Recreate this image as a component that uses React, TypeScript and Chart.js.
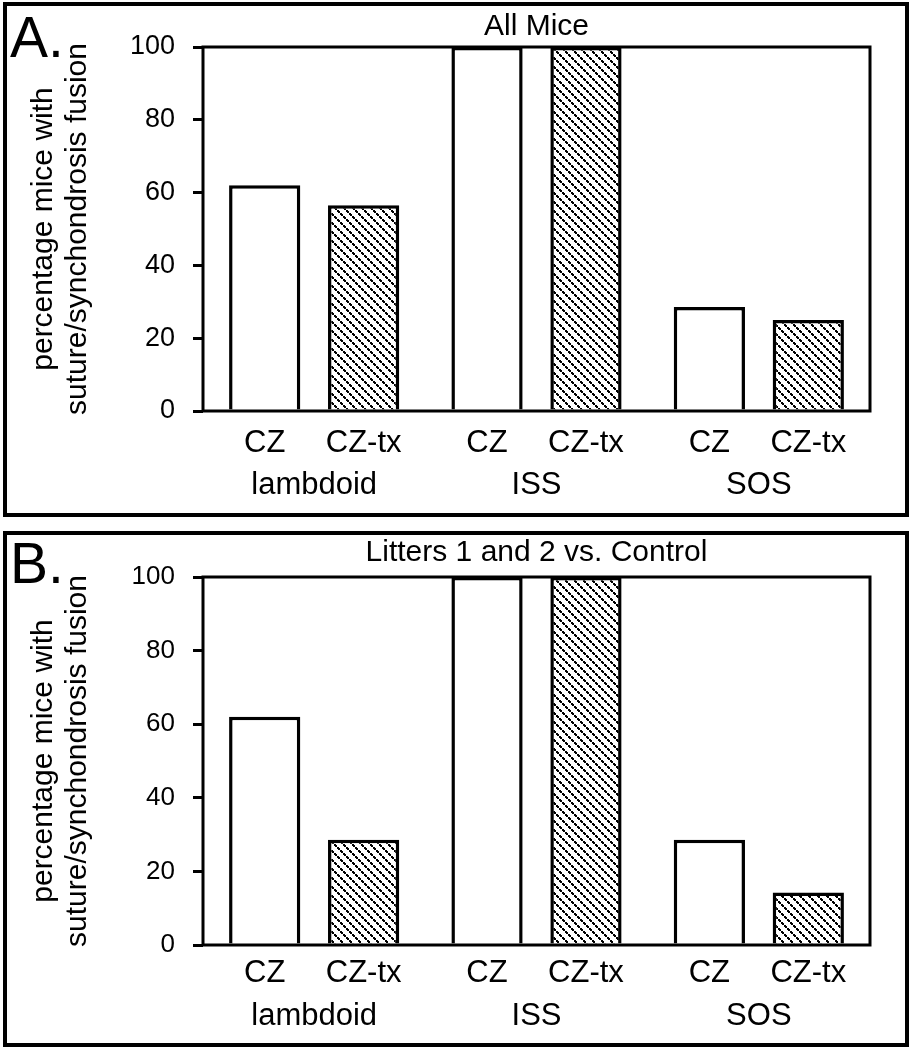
import React, { useEffect, useRef } from "react";
import { Chart, registerables } from "chart.js";

Chart.register(...registerables);

const FONT = '"Liberation Sans", Arial, Helvetica, sans-serif';

const groups = ["lambdoid", "ISS", "SOS"];
const seriesNames = ["CZ", "CZ-tx"];
const allMiceCZ = [62, 100, 28.6];
const allMiceCZtx = [56.5, 100, 25];
const littersCZ = [62, 100, 28.6];
const littersCZtx = [28.6, 100, 14.3];
const yTickStep = 20;
const yMax = 100;
const yTitleLines = ["percentage mice with", "suture/synchondrosis fusion"];

function makeHatch(ctx: CanvasRenderingContext2D) {
  const n = 9;
  const tile = document.createElement("canvas");
  tile.width = n;
  tile.height = n;
  const t = tile.getContext("2d")!;
  t.fillStyle = "#fff";
  t.fillRect(0, 0, n, n);
  t.fillStyle = "#000";
  for (let i = 0; i < 3; i++) t.fillRect(3 * i, 3 * i, 2, 2);
  for (let i = 0; i < 3; i++) t.fillRect(3 * i + 1, 3 * i + 1, 2, 2);
  return ctx.createPattern(tile, "repeat")!;
}

const annotPlugin = {
  id: "annot",
  afterDatasetsDraw(chart: any, _args: any, opts: any) {
    const { ctx, chartArea } = chart;
    ctx.save();
    ctx.strokeStyle = "#000";
    ctx.lineWidth = 3;
    ctx.strokeRect(
      chartArea.left,
      chartArea.top,
      chartArea.right - chartArea.left,
      chartArea.bottom - chartArea.top
    );
    ctx.fillStyle = "#000";
    ctx.font = `${opts.subFont}px ${FONT}`;
    ctx.textAlign = "center";
    ctx.textBaseline = "middle";
    chart.data.datasets.forEach((ds: any, i: number) => {
      chart.getDatasetMeta(i).data.forEach((bar: any) => {
        ctx.fillText(ds.label, bar.x, chartArea.bottom + opts.subOffset);
      });
    });
    ctx.font = `57px ${FONT}`;
    ctx.textAlign = "left";
    ctx.textBaseline = "alphabetic";
    ctx.fillText(opts.letter, opts.letterX, opts.letterY);
    ctx.restore();
  },
};

type PanelProps = {
  letter: string;
  title: string;
  cz: number[];
  cztx: number[];
  width: number;
  height: number;
  titlePadTop: number;
  titlePadBottom: number;
  xAxisHeight: number;
  subOffset: number;
  groupPad: number;
  letterY: number;
  tickFont: number;
};

function Panel(p: PanelProps) {
  const ref = useRef<HTMLCanvasElement>(null);
  useEffect(() => {
    const canvas = ref.current!;
    const ctx = canvas.getContext("2d")!;
    const hatch = makeHatch(ctx);
    const chart = new Chart(canvas, {
      type: "bar",
      data: {
        labels: groups,
        datasets: [
          {
            label: seriesNames[0],
            data: p.cz,
            backgroundColor: "#fff",
            borderColor: "#000",
            borderWidth: 3.5,
            categoryPercentage: 0.89,
            barPercentage: 0.72,
          },
          {
            label: seriesNames[1],
            data: p.cztx,
            backgroundColor: hatch,
            borderColor: "#000",
            borderWidth: 3.5,
            categoryPercentage: 0.89,
            barPercentage: 0.72,
          },
        ],
      },
      options: {
        responsive: false,
        maintainAspectRatio: false,
        animation: false,
        devicePixelRatio: 1,
        layout: { padding: { left: 0, right: 35, top: 0, bottom: 0 } },
        plugins: {
          legend: { display: false },
          tooltip: { enabled: false },
          title: {
            display: true,
            text: p.title,
            fullSize: false,
            color: "#000",
            font: { size: 30, family: FONT, weight: "normal" },
            padding: { top: p.titlePadTop, bottom: p.titlePadBottom },
          },
          annot: {
            letter: p.letter,
            letterX: 3,
            letterY: p.letterY,
            subFont: 31,
            subOffset: p.subOffset,
          },
        } as any,
        scales: {
          x: {
            type: "category",
            grid: { display: false, drawTicks: false, tickLength: 0 },
            border: { display: false },
            ticks: {
              color: "#000",
              font: { size: 31, family: FONT },
              padding: p.groupPad,
              maxRotation: 0,
              autoSkip: false,
            },
            afterFit: (s: any) => {
              s.height = p.xAxisHeight;
            },
          },
          y: {
            min: 0,
            max: yMax,
            grid: {
              drawOnChartArea: false,
              drawTicks: true,
              tickLength: 10,
              color: "#000",
              lineWidth: 3,
            },
            border: { display: false },
            ticks: {
              stepSize: yTickStep,
              color: "#000",
              font: { size: p.tickFont, family: FONT },
              padding: 18,
            },
            title: {
              display: true,
              text: yTitleLines,
              color: "#000",
              font: { size: 30, family: FONT, lineHeight: 1.12 },
              padding: { top: 20, bottom: 0 },
            },
            afterFit: (s: any) => {
              s.width = 196;
            },
          },
        },
      },
      plugins: [annotPlugin],
    });
    return () => chart.destroy();
  }, []);
  return (
    <canvas
      ref={ref}
      width={p.width}
      height={p.height}
      style={{ display: "block", width: p.width, height: p.height }}
    />
  );
}

export default function App() {
  const box = (top: number, h: number): React.CSSProperties => ({
    position: "absolute",
    left: 3,
    top,
    width: 906,
    height: h,
    boxSizing: "border-box",
    border: "4px solid #000",
    background: "#fff",
  });
  return (
    <div style={{ position: "absolute", left: 0, top: 0, width: 916, height: 1050, background: "#fff" }}>
      <div style={box(2, 515)}>
        <Panel
          letter="A."
          title="All Mice"
          cz={allMiceCZ}
          cztx={allMiceCZtx}
          width={898}
          height={507}
          titlePadTop={3}
          titlePadBottom={2}
          xAxisHeight={102}
          subOffset={32}
          groupPad={56}
          letterY={51}
          tickFont={27}
        />
      </div>
      <div style={box(531, 516)}>
        <Panel
          letter="B."
          title="Litters 1 and 2 vs. Control"
          cz={littersCZ}
          cztx={littersCZtx}
          width={898}
          height={508}
          titlePadTop={0}
          titlePadBottom={6}
          xAxisHeight={98}
          subOffset={28}
          groupPad={53}
          letterY={48}
          tickFont={26}
        />
      </div>
    </div>
  );
}
